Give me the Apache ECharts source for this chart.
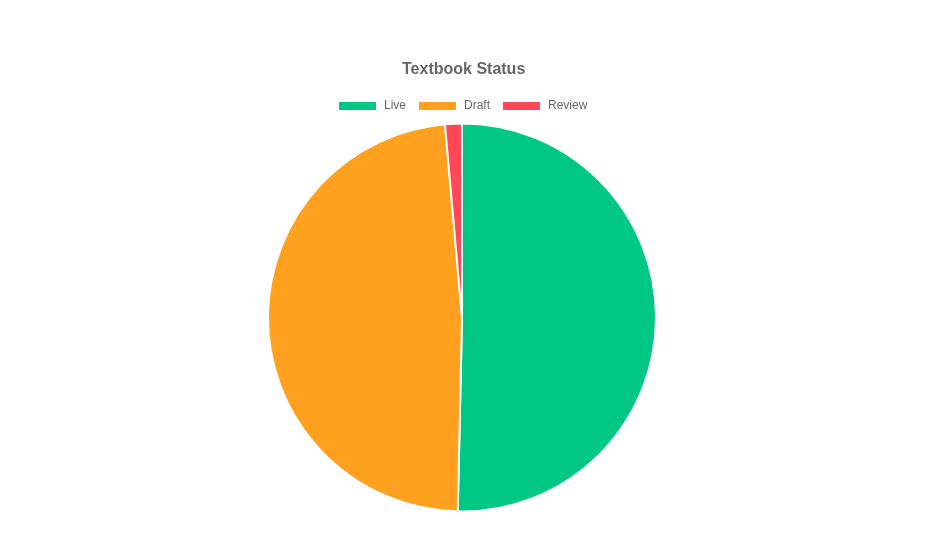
<!DOCTYPE html>
<html><head><meta charset="utf-8">
<script src="https://cdn.jsdelivr.net/npm/echarts@6/dist/echarts.min.js"></script>
<style>html,body{margin:0;padding:0;background:#fff}#c{width:938px;height:536px}</style>
</head><body><div id="c"></div>
<script>
const categories = ["Live", "Draft", "Review"];
const values = [72, 69, 2];
const colors = ["#00c884", "#ffa11f", "#ff4757"];

const chart = echarts.init(document.getElementById('c'), null, {renderer: 'canvas'});
chart.setOption({
  animation: false,
  title: {
    text: "Textbook Status", left: 397, top: 57,
    textStyle: {fontFamily: 'Arial, Liberation Sans, sans-serif', fontSize: 16, fontWeight: 'bold', color: '#666'}
  },
  legend: {
    data: categories, top: 95, left: 332, itemWidth: 39, itemHeight: 10, itemGap: 11,
    icon: 'rect',
    textStyle: {fontFamily: 'Arial, Liberation Sans, sans-serif', fontSize: 12, color: '#666', padding: [0,0,0,2]}
  },
  series: [{
    type: 'pie', center: [462, 317.5], radius: [0, 194], startAngle: 90, clockwise: true,
    label: {show: false}, labelLine: {show: false},
    itemStyle: {borderColor: '#fff', borderWidth: 2},
    emphasis: {disabled: true},
    data: categories.map((c, i) => ({name: c, value: values[i], itemStyle: {color: colors[i]}}))
  }]
});
</script></body></html>
